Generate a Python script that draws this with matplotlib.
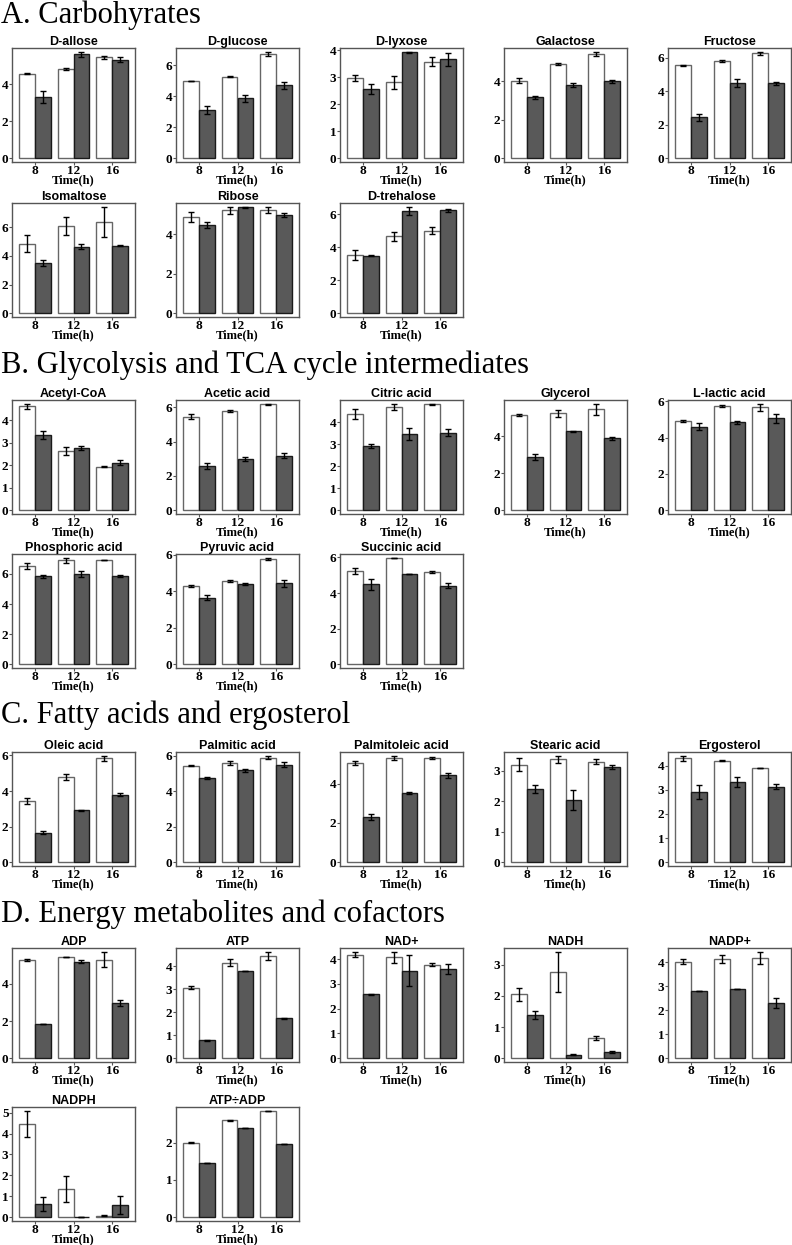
import matplotlib.pyplot as plt
import numpy as np
from matplotlib.ticker import MultipleLocator

# time points (h)
times = ['8', '12', '16']

# A. Carbohyrates
carb_names = ['D-allose', 'D-glucose', 'D-lyxose', 'Galactose', 'Fructose',
              'Isomaltose', 'Ribose', 'D-trehalose']
carb_white = [[4.57, 4.83, 5.44], [5.00, 5.27, 6.76], [2.97, 2.81, 3.57],
              [4.05, 4.91, 5.45], [5.53, 5.80, 6.25], [4.86, 6.07, 6.36],
              [4.86, 5.21, 5.22], [3.52, 4.66, 5.01]]
carb_white_err = [[0.03, 0.05, 0.08], [0.01, 0.04, 0.13], [0.10, 0.25, 0.16],
                  [0.15, 0.03, 0.10], [0.02, 0.08, 0.10], [0.60, 0.62, 1.07],
                  [0.26, 0.17, 0.15], [0.29, 0.27, 0.20]]
carb_dark = [[3.32, 5.62, 5.33], [3.13, 3.89, 4.71], [2.56, 3.92, 3.67],
             [3.17, 3.80, 4.00], [2.44, 4.49, 4.47], [3.50, 4.64, 4.71],
             [4.47, 5.36, 4.98], [3.50, 6.21, 6.25]]
carb_dark_err = [[0.33, 0.13, 0.15], [0.24, 0.22, 0.25], [0.19, 0.02, 0.24],
                 [0.07, 0.10, 0.07], [0.22, 0.22, 0.08], [0.21, 0.18, 0.03],
                 [0.14, 0.03, 0.10], [0.05, 0.25, 0.10]]
carb_step = [2, 2, 1, 2, 2, 2, 2, 2]

# B. Glycolysis and TCA cycle intermediates
tca_names = ['Acetyl-CoA', 'Acetic acid', 'Citric acid', 'Glycerol', 'L-lactic acid',
             'Phosphoric acid', 'Pyruvic acid', 'Succinic acid']
tca_white = [[4.62, 2.65, 1.94], [5.46, 5.78, 6.18], [4.35, 4.67, 4.81],
             [5.16, 5.25, 5.47], [4.92, 5.73, 5.66], [6.52, 6.92, 6.92],
             [4.28, 4.58, 5.78], [5.25, 5.96, 5.17]]
tca_white_err = [[0.12, 0.17, 0.03], [0.14, 0.08, 0.03], [0.23, 0.14, 0.02],
                 [0.04, 0.20, 0.30], [0.05, 0.07, 0.20], [0.22, 0.16, 0.02],
                 [0.06, 0.07, 0.07], [0.17, 0.02, 0.04]]
tca_dark = [[3.36, 2.76, 2.12], [2.56, 3.00, 3.18], [2.92, 3.46, 3.52],
            [2.89, 4.28, 3.89], [4.60, 4.83, 5.06], [5.84, 6.00, 5.89],
            [3.66, 4.39, 4.45], [4.48, 5.06, 4.42]]
tca_dark_err = [[0.17, 0.10, 0.11], [0.18, 0.12, 0.16], [0.09, 0.26, 0.16],
                [0.17, 0.03, 0.09], [0.19, 0.10, 0.25], [0.08, 0.18, 0.06],
                [0.15, 0.05, 0.19], [0.33, 0.02, 0.15]]
tca_step = [1, 2, 1, 2, 2, 2, 2, 2]

# C. Fatty acids and ergosterol
fat_names = ['Oleic acid', 'Palmitic acid', 'Palmitoleic acid', 'Stearic acid', 'Ergosterol']
fat_white = [[3.44, 4.78, 5.83], [5.43, 5.58, 5.89], [5.04, 5.32, 5.32],
             [3.19, 3.37, 3.29], [4.31, 4.21, 3.91]]
fat_white_err = [[0.15, 0.15, 0.15], [0.02, 0.13, 0.10], [0.10, 0.10, 0.06],
                 [0.21, 0.12, 0.08], [0.10, 0.01, 0.00]]
fat_dark = [[1.66, 2.91, 3.80], [4.72, 5.16, 5.49], [2.30, 3.52, 4.42],
            [2.41, 2.03, 3.12], [2.91, 3.32, 3.12]]
fat_dark_err = [[0.07, 0.05, 0.07], [0.05, 0.06, 0.16], [0.14, 0.03, 0.13],
                [0.13, 0.33, 0.05], [0.28, 0.21, 0.10]]
fat_step = [2, 2, 2, 1, 1]

# D. Energy metabolites and cofactors
energy_names = ['ADP', 'ATP', 'NAD+', 'NADH', 'NADP+', 'NADPH', 'ATP÷ADP']
energy_white = [[5.27, 5.46, 5.31], [3.07, 4.15, 4.45], [4.17, 4.07, 3.78],
                [2.05, 2.77, 0.66], [4.01, 4.13, 4.17], [4.46, 1.37, 0.08],
                [2.00, 2.59, 2.84]]
energy_white_err = [[0.05, 0.01, 0.42], [0.05, 0.15, 0.18], [0.10, 0.23, 0.07],
                    [0.22, 0.65, 0.07], [0.10, 0.18, 0.26], [0.63, 0.62, 0.01],
                    [0.01, 0.01, 0.01]]
energy_dark = [[1.86, 5.20, 2.97], [0.79, 3.79, 1.73], [2.58, 3.53, 3.61],
               [1.40, 0.11, 0.21], [2.81, 2.89, 2.29], [0.64, 0.01, 0.60],
               [1.44, 2.40, 1.96]]
energy_dark_err = [[0.00, 0.08, 0.15], [0.02, 0.00, 0.03], [0.03, 0.62, 0.21],
                   [0.13, 0.02, 0.03], [0.00, 0.01, 0.20], [0.33, 0.00, 0.44],
                   [0.00, 0.00, 0.00]]
energy_step = [2, 1, 1, 1, 1, 1, 1]

plt.rcParams['font.family'] = 'Liberation Serif'

W, H = 792, 1245
fig = plt.figure(figsize=(W / 100, H / 100), dpi=100)

col_left = [12, 176, 340, 504, 668]
ax_w, ax_h = 123, 114


def panel(left, top, name, white, white_err, dark, dark_err, step):
    ax = fig.add_axes([left / W, 1 - (top + ax_h) / H, ax_w / W, ax_h / H])
    x = np.arange(len(times))
    w = 0.41
    ekw = dict(ecolor='black', elinewidth=1, capsize=2, capthick=1)
    ax.bar(x - w / 2, white, w, yerr=white_err, color='white',
           edgecolor='#666666', linewidth=1, error_kw=ekw)
    ax.bar(x + w / 2, dark, w, yerr=dark_err, color='#595959',
           edgecolor='#1a1a1a', linewidth=1, error_kw=ekw)
    ax.use_sticky_edges = False
    ax.margins(x=0, y=0.035)
    ax.autoscale_view()
    ax.set_xlim(-0.59, 2.59)
    ax.set_xticks(x)
    ax.set_xticklabels(times)
    ax.yaxis.set_major_locator(MultipleLocator(step))
    ax.tick_params(labelsize=9.5, length=2, width=0.8, color='#555555', pad=0.5)
    ax.tick_params(axis='x', pad=0)
    for lab in ax.get_xticklabels() + ax.get_yticklabels():
        lab.set_fontweight('bold')
    for s in ax.spines.values():
        s.set_color('#555555')
        s.set_linewidth(1)
    ax.set_title(name, fontsize=9, family='Liberation Sans', fontweight='bold', pad=2)
    ax.set_xlabel('Time(h)', fontsize=9, fontweight='bold', labelpad=-1.5)
    return ax


def section(title, baseline, tops, names, white, white_err, dark, dark_err, steps):
    fig.text(1 / W, 1 - baseline / H, title, fontsize=22, va='baseline', ha='left')
    for i, name in enumerate(names):
        panel(col_left[i % 5], tops[i // 5], name, white[i], white_err[i],
              dark[i], dark_err[i], steps[i])


section('A. Carbohyrates', 23, [48, 203], carb_names, carb_white, carb_white_err,
        carb_dark, carb_dark_err, carb_step)
section('B. Glycolysis and TCA cycle intermediates', 373, [400, 554], tca_names,
        tca_white, tca_white_err, tca_dark, tca_dark_err, tca_step)
section('C. Fatty acids and ergosterol', 723, [752], fat_names, fat_white,
        fat_white_err, fat_dark, fat_dark_err, fat_step)
section('D. Energy metabolites and cofactors', 922, [948, 1107], energy_names,
        energy_white, energy_white_err, energy_dark, energy_dark_err, energy_step)

fig.savefig('out.png', dpi=100)
